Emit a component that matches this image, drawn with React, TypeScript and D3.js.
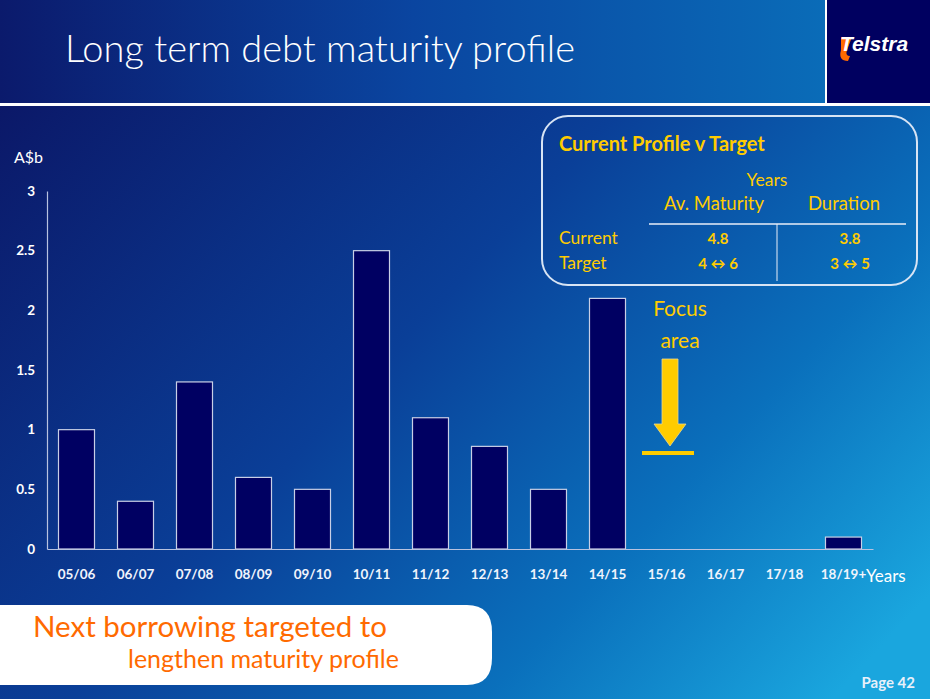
import { useRef, useEffect } from "react";
import { select, scaleBand, scaleLinear, axisLeft, axisBottom } from "d3";

const periods = [
  "05/06", "06/07", "07/08", "08/09", "09/10", "10/11", "11/12",
  "12/13", "13/14", "14/15", "15/16", "16/17", "17/18", "18/19+",
];
const debt = [1.0, 0.4, 1.4, 0.6, 0.5, 2.5, 1.1, 0.86, 0.5, 2.1, 0, 0, 0, 0.1];
const yTicks = [0, 0.5, 1, 1.5, 2, 2.5, 3];

const tableCols = ["Av. Maturity", "Duration"];
const tableRows = ["Current", "Target"];
const tableVals = [["4.8", "3.8"], ["4 \u2194 6", "3 \u2194 5"]];

const FONT = "Lato, 'Noto Sans', sans-serif";
const YELLOW = "#ffcc00";
const ORANGE = "#ff6a00";

function DebtChart() {
  const svgRef = useRef(null);

  useEffect(() => {
    const svg = select(svgRef.current);

    const x = scaleBand()
      .domain(periods)
      .range([47, 873])
      .paddingInner(0.39)
      .paddingOuter(0.195);

    const y = scaleLinear().domain([0, 3]).range([549, 191]);

    // bars
    svg
      .select("#bars")
      .selectAll("rect")
      .data(debt.map((v, i) => ({ p: periods[i], v })).filter((d) => d.v > 0))
      .join("rect")
      .attr("x", (d) => x(d.p))
      .attr("y", (d) => y(d.v))
      .attr("width", x.bandwidth())
      .attr("height", (d) => y(0) - y(d.v))
      .attr("fill", "#000062")
      .attr("stroke", "#c8cfe6")
      .attr("stroke-width", 1.2);

    // y axis
    const yAxis = axisLeft(y)
      .tickValues(yTicks)
      .tickSize(0)
      .tickPadding(12)
      .tickFormat((d) => String(d));
    const gy = svg.select("#y-axis").attr("transform", "translate(47,0)").call(yAxis);
    gy.select(".domain").attr("stroke", "#b8c2e0").attr("stroke-width", 1.2);
    gy.selectAll("text")
      .attr("fill", "#ffffff")
      .attr("font-family", FONT)
      .attr("font-weight", "bold")
      .attr("font-size", 13.5);

    // x axis
    const xAxis = axisBottom(x).tickSize(0).tickPadding(20);
    const gx = svg.select("#x-axis").attr("transform", "translate(0,549)").call(xAxis);
    gx.select(".domain").attr("stroke", "#b8c2e0").attr("stroke-width", 1.2);
    gx.selectAll("text")
      .attr("fill", "#f0f4fc")
      .attr("font-family", FONT)
      .attr("font-weight", "bold")
      .attr("font-size", 13.5);
  }, []);

  return (
    <svg ref={svgRef} width={930} height={699} style={{ display: "block" }}>
      <defs>
        <linearGradient id="bg" x1="0" y1="0.15" x2="1" y2="0.85">
          <stop offset="0" stopColor="#0b1868" />
          <stop offset="0.45" stopColor="#0a3f98" />
          <stop offset="0.75" stopColor="#0a70bc" />
          <stop offset="1" stopColor="#1aa6de" />
        </linearGradient>
        <linearGradient id="hdr" x1="0" y1="0" x2="1" y2="0">
          <stop offset="0" stopColor="#0b1a6c" />
          <stop offset="0.5" stopColor="#0a45a0" />
          <stop offset="1" stopColor="#0a6cb8" />
        </linearGradient>
      </defs>

      <rect x={0} y={0} width={930} height={699} fill="url(#bg)" />

      {/* header */}
      <rect x={0} y={0} width={826} height={103} fill="url(#hdr)" />
      <rect x={0} y={103} width={930} height={3} fill="#ffffff" />
      <rect x={826} y={0} width={104} height={103} fill="#000060" />
      <rect x={825} y={0} width={2} height={103} fill="#ffffff" />
      <text x={65} y={62} fill="#ffffff" fontFamily={FONT} fontSize={38} fontWeight={300}>
        Long term debt maturity profile
      </text>
      <path d="M841,37 L852,37 L847,50 Q845,56 850,56 L848,61 Q838,61 841,50 Z" fill={ORANGE} />
      <text x={840} y={51} fill="#ffffff" fontFamily="'Liberation Sans', Arial, sans-serif"
        fontSize={21} fontWeight="bold" fontStyle="italic">
        Telstra
      </text>

      {/* axis titles */}
      <text x={14} y={163} fill="#ffffff" fontFamily={FONT} fontSize={16}>A$b</text>
      <text x={866} y={582} fill="#ffffff" fontFamily={FONT} fontSize={17}>Years</text>

      <g id="bars" />
      <g id="y-axis" />
      <g id="x-axis" />

      {/* target table */}
      <rect x={542} y={116} width={375} height={169} rx={26} fill="none" stroke="#d8e4f4" strokeWidth={2} />
      <g fontFamily={FONT} fill={YELLOW}>
        <text x={559} y={151} fontSize={20} fontWeight="bold">Current Profile v Target</text>
        <text x={767} y={186} fontSize={17.5} textAnchor="middle">Years</text>
        {tableCols.map((c, i) => (
          <text key={c} x={[714, 844][i]} y={210} fontSize={18.5} textAnchor="middle">{c}</text>
        ))}
        {tableRows.map((r, j) => (
          <g key={r}>
            <text x={559} y={244 + j * 25} fontSize={17.5}>{r}</text>
            {tableVals[j].map((v, i) => (
              <text key={i} x={[718, 850][i]} y={244 + j * 25} fontSize={15} fontWeight="bold" textAnchor="middle">
                {v}
              </text>
            ))}
          </g>
        ))}
      </g>
      <line x1={649} x2={906} y1={224} y2={224} stroke="#e8eef8" strokeWidth={1.5} />
      <line x1={777} x2={777} y1={224} y2={281} stroke="#e8eef8" strokeWidth={1} />

      {/* focus area */}
      <g fontFamily={FONT} fill={YELLOW} fontSize={21} textAnchor="middle">
        <text x={680} y={316}>Focus</text>
        <text x={680} y={348}>area</text>
      </g>
      <path d="M662,359 L678,359 L678,424 L686,424 L670,446 L654,424 L662,424 Z"
        fill={YELLOW} stroke="#e8d890" strokeWidth={0.8} />
      <rect x={642} y={451} width={52} height={4} fill={YELLOW} />

      {/* callout */}
      <path d="M0,605 L467,605 Q492,605 492,632 L492,658 Q492,685 467,685 L0,685 Z" fill="#ffffff" />
      <text x={33} y={637} fill={ORANGE} fontFamily={FONT} fontSize={29.5}>Next borrowing targeted to</text>
      <text x={128} y={668} fill={ORANGE} fontFamily={FONT} fontSize={25}>lengthen maturity profile</text>

      <text x={915} y={688} fill="#e8f0fa" fontFamily={FONT} fontSize={15} fontWeight="bold" textAnchor="end">
        Page 42
      </text>
    </svg>
  );
}

export default function App() {
  return (
    <>
      <style>{"body{margin:0}"}</style>
      <DebtChart />
    </>
  );
}
